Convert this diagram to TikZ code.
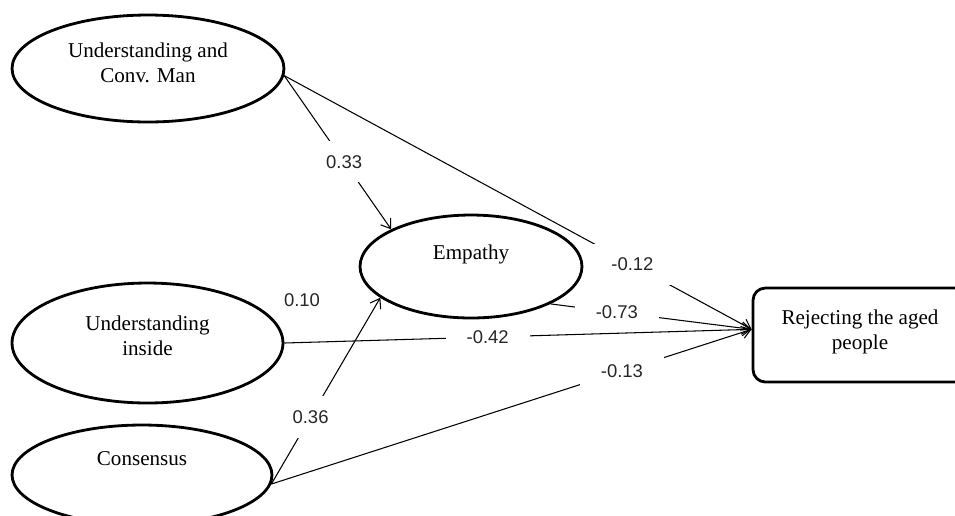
\documentclass[tikz,border=0pt]{standalone}
\usepackage{fontspec}
\setmainfont{Liberation Serif}
\newfontfamily\coeffont{Liberation Sans}
\usetikzlibrary{arrows.meta, shapes.geometric}
\tikzset{>={Straight Barb[length=5pt,width=7pt]}}
\tikzset{
  latent/.style={draw, ellipse, line width=1.6pt},
  observed/.style={draw, rectangle, rounded corners=7pt, line width=1.6pt},
  nodetext/.style={align=center, font=\fontsize{12}{14.2}\selectfont},
  path/.style={->, line width=0.6pt},
  coeftext/.style={text=black!85, font=\coeffont\fontsize{10.5}{12}\selectfont},
  coef/.style={coeftext, fill=white, inner xsep=12pt, inner ysep=8pt}
}

\begin{document}
\begin{tikzpicture}[x=0.02cm, y=-0.02cm]
\useasboundingbox (0,0) rectangle (955,515);
% latent variables
\node[latent, minimum width=5.44cm, minimum height=2.14cm,
  label={[nodetext, yshift=3.4pt]center:Understanding and\\Conv. Man}] (ucm) at (148,68.5) {};
\node[latent, minimum width=4.44cm, minimum height=2.06cm,
  label={[nodetext, yshift=7pt]center:Empathy}] (emp) at (471,266.5) {};
\node[latent, minimum width=5.42cm, minimum height=2.4cm,
  label={[nodetext, yshift=4pt]center:Understanding\\inside}] (uin) at (147.5,343) {};
\node[latent, minimum width=5.2cm, minimum height=2cm,
  label={[nodetext, yshift=9.6pt]center:Consensus}] (cons) at (142,475) {};
\node[observed, minimum width=4.28cm, minimum height=1.88cm,
  label={[nodetext, yshift=2pt]center:Rejecting the aged\\people}] (rej) at (860,335) {};
% paths
\draw[path] (ucm.-3) -- node[coef, pos=.56] {0.33} (emp.155);
\draw[path] (ucm.-3) -- node[coef, pos=.745] {-0.12} (rej.177);
\draw[path] (emp.south east) -- node[coef, pos=.33, inner ysep=4pt] {-0.73} (rej.177);
\draw[path] (uin.east) -- node[coef, pos=.435, inner ysep=2pt] {-0.42} (rej.177);
\draw[path] (cons.-4) -- node[coef, pos=.36] {0.36} (emp.199);
\draw[path] (cons.-4) -- node[coef, pos=.73] {-0.13} (rej.177);
\node[coeftext] (uie) at (302,300) {0.10};
\end{tikzpicture}
\end{document}
